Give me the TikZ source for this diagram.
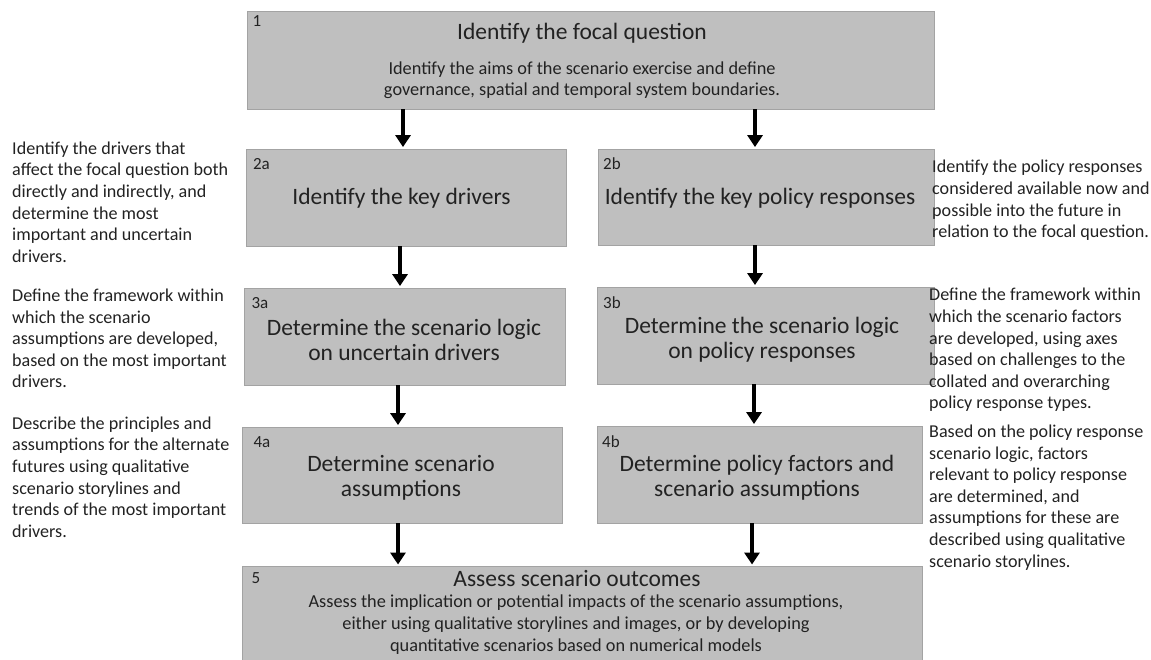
\documentclass[tikz,border=0pt]{standalone}
\usepackage{fontspec}
\setmainfont{Carlito}
\usetikzlibrary{arrows.meta}
\definecolor{boxfill}{HTML}{BFBFBF}
\definecolor{boxline}{HTML}{A3A3A3}
\definecolor{ink}{HTML}{222222}
\begin{document}
\begin{tikzpicture}[x=1pt,y=-1pt,
  stagebox/.style={draw=boxline,fill=boxfill,line width=0.8pt,inner sep=0pt},
  numlabel/.style={text=ink,inner sep=0pt,font=\fontsize{17}{20}\selectfont},
  titletext/.style={text=ink,inner sep=0pt,align=center,font=\fontsize{23.5}{25}\selectfont},
  subtext/.style={text=ink,inner sep=0pt,align=center,font=\fontsize{18.3}{21.5}\selectfont},
  sidenote/.style={text=ink,inner sep=0pt,align=left,anchor=west,font=\fontsize{18.1}{21.6}\selectfont},
  flow/.style={line width=4pt,-{Triangle[width=15pt,length=12pt]},shorten >=1.5pt}]
\useasboundingbox (0,0) rectangle (1151,660);

% stage boxes
\node[stagebox,minimum width=687pt,minimum height=98pt] (b1) at (590.5,60) {};
\node[stagebox,minimum width=320pt,minimum height=97pt] (b2a) at (406,197.5) {};
\node[stagebox,minimum width=336pt,minimum height=96pt] (b2b) at (766,197) {};
\node[stagebox,minimum width=321pt,minimum height=97pt] (b3a) at (404.5,336.5) {};
\node[stagebox,minimum width=337pt,minimum height=97pt] (b3b) at (765.5,335.5) {};
\node[stagebox,minimum width=320pt,minimum height=96pt] (b4a) at (402,475) {};
\node[stagebox,minimum width=325pt,minimum height=97pt] (b4b) at (759.5,474.5) {};
\node[stagebox,minimum width=680pt,minimum height=100pt,anchor=north west] (b5) at (242,566) {};

% stage 1
\node[numlabel] (n1) at (257,21) {1};
\node[titletext] (t1) at (582,33) {Identify the focal question};
\node[subtext] (s1) at (582,80) {Identify the aims of the scenario exercise and define\\governance, spatial and temporal system boundaries.};

% stage 2
\node[numlabel] (n2a) at (261.5,164) {2a};
\node[titletext] (t2a) at (401.5,198) {Identify the key drivers};
\node[numlabel] (n2b) at (612,164) {2b};
\node[titletext] (t2b) at (760,198) {Identify the key policy responses};

% stage 3
\node[numlabel] (n3a) at (260,303) {3a};
\node[titletext] (t3a) at (404,339.5) {Determine the scenario logic\\on uncertain drivers};
\node[numlabel] (n3b) at (612,303) {3b};
\node[titletext] (t3b) at (762,339.5) {Determine the scenario logic\\on policy responses};

% stage 4
\node[numlabel] (n4a) at (262,442) {4a};
\node[titletext] (t4a) at (401,478) {Determine scenario\\assumptions};
\node[numlabel] (n4b) at (611,442) {4b};
\node[titletext] (t4b) at (757,478) {Determine policy factors and\\scenario assumptions};

% stage 5
\node[numlabel] (n5) at (256,578) {5};
\node[titletext] (t5) at (577,578) {Assess scenario outcomes};
\node[subtext,font=\fontsize{18.3}{22}\selectfont] (s5) at (576,625) {Assess the implication or potential impacts of the scenario assumptions,\\either using qualitative storylines and images, or by developing\\quantitative scenarios based on numerical models};

% notes beside the stages
\node[sidenote] (d2a) at (12,202) {Identify the drivers that\\affect the focal question both\\directly and indirectly, and\\determine the most\\important and uncertain\\drivers.};
\node[sidenote] (d3a) at (12,338.5) {Define the framework within\\which the scenario\\assumptions are developed,\\based on the most important\\drivers.};
\node[sidenote] (d4a) at (12,477) {Describe the principles and\\assumptions for the alternate\\futures using qualitative\\scenario storylines and\\trends of the most important\\drivers.};
\node[sidenote] (d2b) at (932,200.5) {Identify the policy responses\\considered available now and\\possible into the future in\\relation to the focal question.};
\node[sidenote] (d3b) at (929,350) {Define the framework within\\which the scenario factors\\are developed, using axes\\based on challenges to the\\collated and overarching\\policy response types.};
\node[sidenote] (d4b) at (929,497.5) {Based on the policy response\\scenario logic, factors\\relevant to policy response\\are determined, and\\assumptions for these are\\described using qualitative\\scenario storylines.};

% arrow columns
\coordinate (c1L) at (403,0);
\coordinate (c1R) at (755,0);
\coordinate (c2L) at (400,0);
\coordinate (c2R) at (755,0);
\coordinate (c3L) at (398,0);
\coordinate (c3R) at (754,0);
\coordinate (c4L) at (398,0);
\coordinate (c4R) at (752,0);

\draw[flow] (c1L |- b1.south) -- (c1L |- b2a.north);
\draw[flow] (c1R |- b1.south) -- (c1R |- b2b.north);
\draw[flow] (c2L |- b2a.south) -- (c2L |- b3a.north);
\draw[flow] (c2R |- b2b.south) -- (c2R |- b3b.north);
\draw[flow] (c3L |- b3a.south) -- (c3L |- b4a.north);
\draw[flow] (c3R |- b3b.south) -- (c3R |- b4b.north);
\draw[flow] (c4L |- b4a.south) -- (c4L |- b5.north);
\draw[flow] (c4R |- b4b.south) -- (c4R |- b5.north);
\end{tikzpicture}
\end{document}
